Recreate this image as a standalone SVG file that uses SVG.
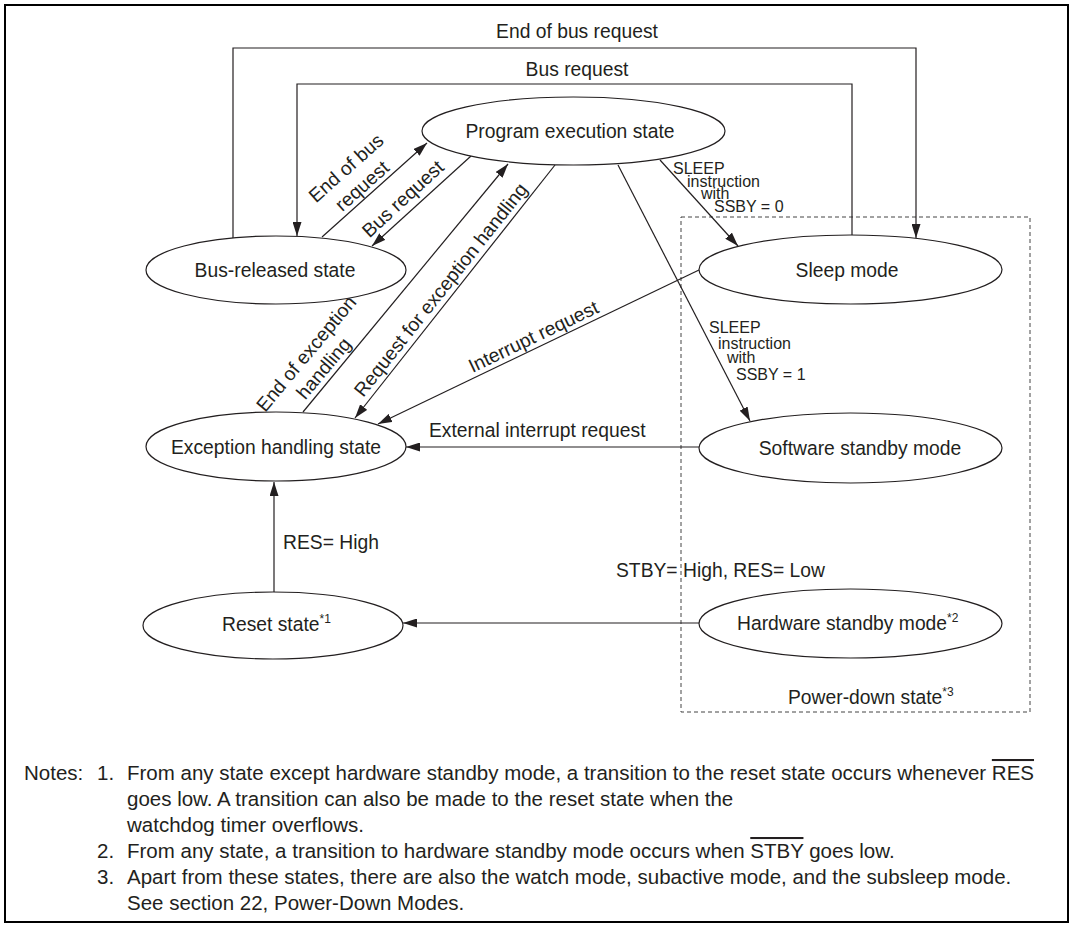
<svg xmlns="http://www.w3.org/2000/svg" width="1073" height="928" viewBox="0 0 1073 928">
<style>
text{font-family:"Liberation Sans",Arial,sans-serif;fill:#231f20}
.lbl{font-size:19.3px}
.sm{font-size:16px}
.note{font-size:20.5px}
.sup{font-size:12px}
.node ellipse{fill:#fff;stroke:#231f20;stroke-width:1.2}
.c{fill:none;stroke:#231f20;stroke-width:1.2}
.ca{fill:none;stroke:#231f20;stroke-width:1.2;marker-end:url(#ah)}
.ov{text-decoration:overline}
</style>
<defs>
<marker id="ah" markerUnits="userSpaceOnUse" markerWidth="15" markerHeight="9" refX="14" refY="4.5" orient="auto">
<path d="M0,0 L14,4.5 L0,9 z" fill="#231f20"/>
</marker>
</defs>
<rect x="5" y="5" width="1063" height="917" fill="#fff" stroke="#000" stroke-width="2"/>
<rect id="power-down" x="681" y="217" width="349" height="495" fill="none" stroke="#444" stroke-width="1" stroke-dasharray="4,3"/>
<g id="connectors">
<polyline class="ca" points="233,238 233,48 916,48 916,238"/>
<polyline class="ca" points="852,235 852,84 297,84 297,236"/>
<line class="ca" x1="322" y1="237" x2="427" y2="143"/>
<line class="ca" x1="471" y1="156" x2="372" y2="246"/>
<line class="ca" x1="303" y1="412" x2="508" y2="164"/>
<line class="ca" x1="555" y1="165" x2="355" y2="418"/>
<line class="ca" x1="660" y1="160" x2="738" y2="246"/>
<line class="ca" x1="618" y1="165" x2="750" y2="421"/>
<line class="ca" x1="699" y1="270" x2="378" y2="424"/>
<line class="ca" x1="699" y1="447" x2="406" y2="447"/>
<line class="ca" x1="274" y1="592" x2="274" y2="482"/>
<line class="ca" x1="699" y1="623" x2="403" y2="623"/>
</g>
<g id="labels">
<text class="lbl" x="577" y="38" text-anchor="middle">End of bus request</text>
<text class="lbl" x="577" y="76" text-anchor="middle">Bus request</text>
<g transform="translate(369.7,194.6) rotate(-41.6)">
<text class="lbl" x="0" y="-29" text-anchor="middle">End of bus</text>
<text class="lbl" x="0" y="-5" text-anchor="middle">request</text>
</g>
<g transform="translate(412.7,209.6) rotate(-42.6)">
<text class="lbl" x="0" y="-8" text-anchor="middle">Bus request</text>
</g>
<g transform="translate(333,376.1) rotate(-50.1)">
<text class="lbl" x="0" y="-28.4" text-anchor="middle">End of exception</text>
<text class="lbl" x="0" y="-5.6" text-anchor="middle">handling</text>
</g>
<g transform="translate(450.6,297.6) rotate(-51.6)">
<text class="lbl" x="0" y="-6" text-anchor="middle">Request for exception handling</text>
</g>
<g transform="translate(538.4,347) rotate(-25.6)">
<text class="lbl" x="0" y="-5" text-anchor="middle">Interrupt request</text>
</g>
<text class="sm" x="673" y="174">SLEEP</text>
<text class="sm" x="687" y="187">instruction</text>
<text class="sm" x="701" y="199">with</text>
<text class="sm" x="714" y="212">SSBY = 0</text>
<text class="sm" x="709" y="333">SLEEP</text>
<text class="sm" x="718" y="349">instruction</text>
<text class="sm" x="727" y="363">with</text>
<text class="sm" x="736" y="380">SSBY = 1</text>
<text class="lbl" x="429" y="437">External interrupt request</text>
<text class="lbl" x="283" y="549">RES= High</text>
<text class="lbl" x="616" y="577">STBY= High, RES= Low</text>
<text class="lbl" x="788" y="704">Power-down state<tspan class="sup" dy="-8">*3</tspan></text>
</g>
<g id="program-execution" class="node">
<ellipse cx="573.5" cy="131" rx="151.5" ry="34"/>
<text class="lbl" x="570" y="138" text-anchor="middle">Program execution state</text>
</g>
<g id="bus-released" class="node">
<ellipse cx="276" cy="270" rx="130" ry="34"/>
<text class="lbl" x="275" y="277" text-anchor="middle">Bus-released state</text>
</g>
<g id="sleep" class="node">
<ellipse cx="850.5" cy="269.5" rx="151.5" ry="34.5"/>
<text class="lbl" x="847" y="277" text-anchor="middle">Sleep mode</text>
</g>
<g id="exception-handling" class="node">
<ellipse cx="276" cy="446.5" rx="130" ry="34.5"/>
<text class="lbl" x="276" y="454" text-anchor="middle">Exception handling state</text>
</g>
<g id="software-standby" class="node">
<ellipse cx="850.5" cy="448" rx="151.5" ry="35"/>
<text class="lbl" x="860" y="455" text-anchor="middle">Software standby mode</text>
</g>
<g id="reset" class="node">
<ellipse cx="273" cy="625.5" rx="130" ry="33.5"/>
<text class="lbl" x="222" y="631">Reset state<tspan class="sup" dy="-8">*1</tspan></text>
</g>
<g id="hardware-standby" class="node">
<ellipse cx="850.5" cy="623.5" rx="151.5" ry="34.5"/>
<text class="lbl" x="737" y="630">Hardware standby mode<tspan class="sup" dy="-8">*2</tspan></text>
</g>
<g id="notes">
<text class="note" x="24" y="780">Notes:</text>
<text class="note" x="97" y="780">1.</text>
<text class="note" x="127" y="780">From any state except hardware standby mode, a transition to the reset state occurs whenever <tspan class="ov">RES</tspan></text>
<text class="note" x="127" y="806">goes low. A transition can also be made to the reset state when the</text>
<text class="note" x="127" y="832">watchdog timer overflows.</text>
<text class="note" x="97" y="858">2.</text>
<text class="note" x="127" y="858">From any state, a transition to hardware standby mode occurs when <tspan class="ov">STBY</tspan> goes low.</text>
<text class="note" x="97" y="884">3.</text>
<text class="note" x="127" y="884">Apart from these states, there are also the watch mode, subactive mode, and the subsleep mode.</text>
<text class="note" x="127" y="910">See section 22, Power-Down Modes.</text>
</g>
</svg>
